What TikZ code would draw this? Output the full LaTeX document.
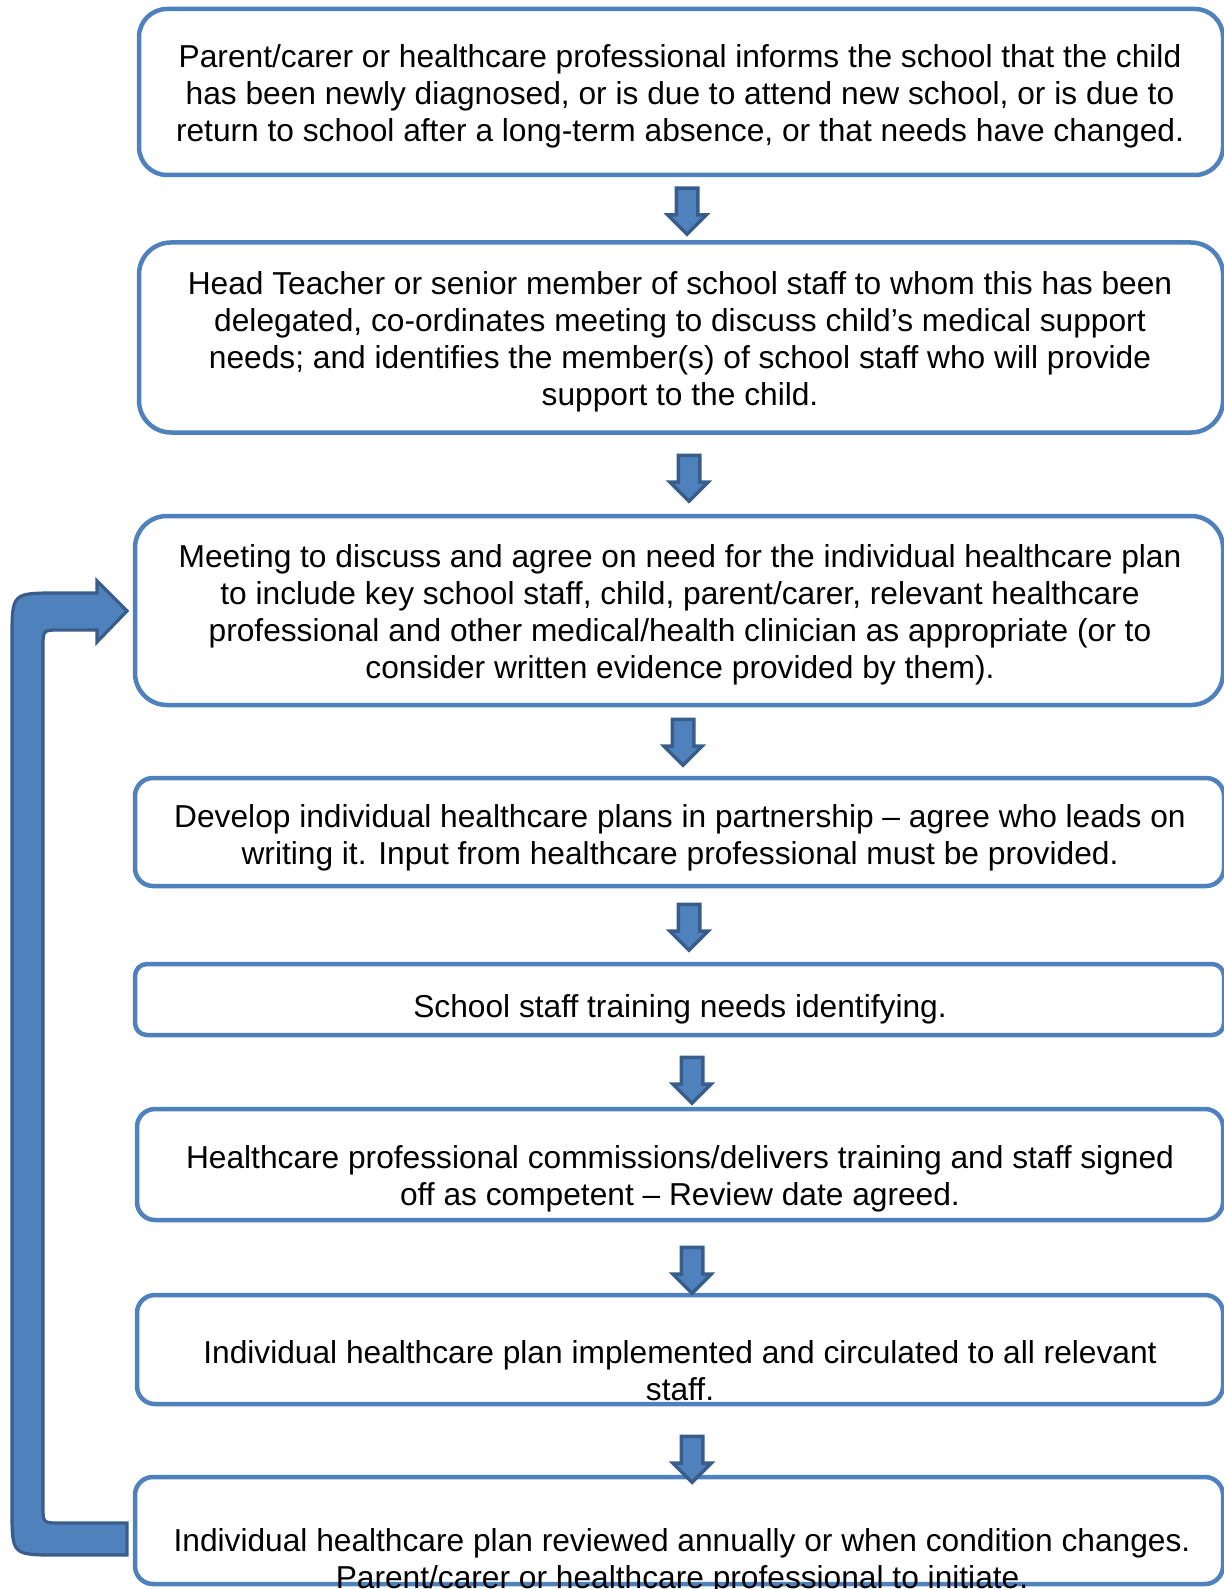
\documentclass[tikz,border=0pt]{standalone}
\usepackage{fontspec}
\setmainfont{Liberation Sans}
\usepackage{tikz}
\usetikzlibrary{shapes.arrows}
\definecolor{boxblue}{HTML}{4F81BD}
\definecolor{darkblue}{HTML}{385D8A}
\tikzstyle{planbox}=[
	rectangle,
	draw=boxblue,
	line width=2.25pt,
	minimum width=542pt,
	inner sep=0pt
]
\tikzstyle{plantext}=[
	align=center,
	inner sep=0pt,
	font=\fontsize{15.85pt}{18.5pt}\selectfont
]
\tikzstyle{downarrow}=[
	single arrow,
	shape border rotate=270,
	draw=darkblue,
	fill=boxblue,
	line width=1.75pt,
	inner sep=4.5pt,
	minimum width=17.5pt,
	minimum height=23pt,
	single arrow head extend=4.25pt,
	anchor=tail
]
\tikzstyle{looparrow}=[
	draw=darkblue,
	fill=boxblue,
	line width=1.6pt,
	line join=miter
]

\begin{document}
\begin{tikzpicture}[x=0.5pt,y=-0.5pt]
\useasboundingbox (0,0) rectangle (1224,1589);

% boxes
\node[planbox, minimum height=83pt, rounded corners=14pt] (b1) at (681,92) {};
\node[planbox, minimum height=95pt, rounded corners=16pt] (b2) at (681,337.5) {};
\node[planbox, minimum width=544pt, minimum height=94.5pt, rounded corners=16pt] (b3) at (679,610.5) {};
\node[planbox, minimum width=544.5pt, minimum height=54pt, rounded corners=9pt] (b4) at (679.5,832) {};
\node[planbox, minimum width=544.5pt, minimum height=35.5pt, rounded corners=6pt] (b5) at (679.5,999.5) {};
\node[planbox, minimum width=543pt, minimum height=55.5pt, rounded corners=9pt] (b6) at (680,1164.5) {};
\node[planbox, minimum width=543pt, minimum height=54.5pt, rounded corners=9pt] (b7) at (680,1349.5) {};
\node[planbox, minimum width=544pt, minimum height=53.5pt, rounded corners=9pt] (b8) at (679,1530.5) {};

% texts
\node[plantext] (t1) at (680,96) {Parent/carer or healthcare professional informs the school that the child\\has been newly diagnosed, or is due to attend new school, or is due to\\return to school after a long-term absence, or that needs have changed.};
\node[plantext] (t2) at (680,342) {Head Teacher or senior member of school staff to whom this has been\\delegated, co-ordinates meeting to discuss child’s medical support\\needs; and identifies the member(s) of school staff who will provide\\support to the child.};
\node[plantext] (t3) at (680,615) {Meeting to discuss and agree on need for the individual healthcare plan\\to include key school staff, child, parent/carer, relevant healthcare\\professional and other medical/health clinician as appropriate (or to\\consider written evidence provided by them).};
\node[plantext] (t4) at (680,837.5) {Develop individual healthcare plans in partnership – agree who leads on\\writing it. Input from healthcare professional must be provided.};
\node[plantext] (t5) at (680,1009) {School staff training needs identifying.};
\node[plantext] (t6) at (680,1179) {Healthcare professional commissions/delivers training and staff signed\\off as competent – Review date agreed.};
\node[plantext] (t7) at (680,1371) {Individual healthcare plan implemented and circulated to all relevant\\staff.};
\node[plantext] (t8) at (682,1561.5) {Individual healthcare plan reviewed annually or when condition changes.\\Parent/carer or healthcare professional to initiate.};

% arrows between boxes
\node[downarrow] (a1) at (687,186.5) {};
\node[downarrow] (a2) at (689,453.5) {};
\node[downarrow] (a3) at (683,717.5) {};
\node[downarrow] (a4) at (689,902.5) {};
\node[downarrow] (a5) at (692,1055.5) {};
\node[downarrow] (a6) at (692,1245.5) {};
\node[downarrow] (a7) at (692,1434.5) {};

% loop back from review to meeting
\draw[looparrow] (127,1555) -- (57,1555) .. controls (12,1555) .. (12,1510)
	-- (12,638) .. controls (12,593) .. (57,593) -- (97,593) -- (97,581)
	-- (127,611) -- (97,642) -- (97,630) -- (60,630) .. controls (43,630) .. (43,647)
	-- (43,1506) .. controls (43,1523) .. (60,1523) -- (127,1523) -- cycle;

\end{tikzpicture}
\end{document}
